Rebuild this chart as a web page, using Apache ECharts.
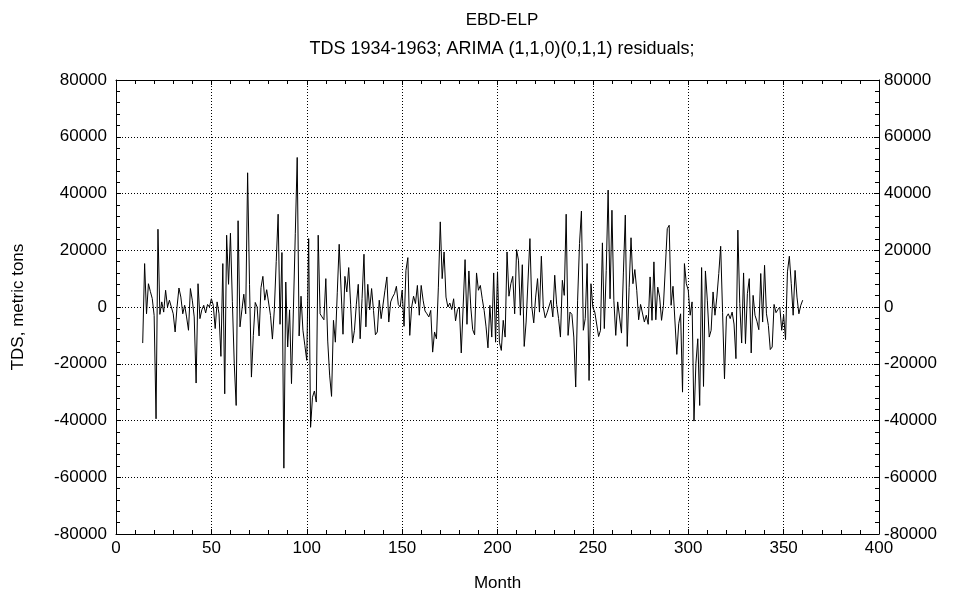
<!DOCTYPE html>
<html>
<head>
<meta charset="utf-8">
<script src="https://cdn.jsdelivr.net/npm/echarts@6/dist/echarts.min.js"></script>
<style>
  html, body { margin: 0; padding: 0; background: #fff; }
  #chart { width: 954px; height: 601px; }
</style>
</head>
<body>
<div id="chart"></div>
<script>
// Month index of the first residual (first 13 months lost to differencing)
const startMonth = 14;

// ARIMA residuals, months 14..360 (metric tons)
const residuals = [
  -12700, 15300, -2400, 8200, 5500, 3000, -3000, -39400, 27400, -2600,
  1800, -1800, 5900, 0, 2400, 1800, -2400, -8800, 0, 6700,
  3500, -2400, 600, -3500, -8200, 6500, 2400, -3500, -26800, 8200,
  -4100, -1000, 600, -2100, 900, 0, 2900, 600, -7600, 1800,
  -2400, -17400, 15300, -30600, 25300, 8000, 26000, 2000, -20000, -34700,
  30400, -7000, -1000, 4500, -2400, 47300, 8000, -24700, -10000, 1600,
  0, -10200, 6800, 10800, 2400, 6100, 5900, -3000, -11300, -1000,
  16000, 32700, -6100, 19200, -56800, 8800, -14100, -1000, -27000, -1000,
  26000, 52700, -10200, 3800, -8200, -13500, -18800, 24100, -42400, -31800,
  -29600, -33500, 25300, -2400, -3500, -4500, 10000, -12000, -24000, -31500,
  -4700, -12400, 5000, 22100, 6000, -9600, 10800, 5300, 13900, 1000,
  -12700, -8200, 1000, 8000, -11200, 3000, 18600, -7000, 8000, -1000,
  6500, -1200, -9800, -8800, 2400, -4100, -4100, 5900, 10600, -5300,
  1800, 3500, 4700, 7300, 900, 0, 5900, -6800, 12900, 17400,
  -10000, 0, 3800, 1200, 7600, -2900, 7600, 2400, -1400, -2400,
  -3500, -1200, -15900, -8800, -11200, 7000, 30000, 10000, 19400, 3500,
  0, 1400, -900, 2900, -4900, -900, 0, -16200, -15900, 16700,
  -6100, 12700, 0, -8000, -9800, 12000, 5900, 7600, 2900, -1200,
  -7000, -14400, 600, -10600, 12000, -12400, 12400, -12400, -15300, -4700,
  -10600, 19400, 3800, 8200, 10800, -2400, 20200, 16500, -2900, 14900,
  -13900, -5300, -4700, 24100, 0, -5600, 3500, 10000, -1800, 17900,
  0, -3800, -2000, -1800, 2400, -3500, 11200, 900, -4000, -10600,
  9400, 4100, 32700, -10000, -1800, -2600, -10600, -28200, 2400, 22400,
  33800, -8200, -4100, 15300, -25900, 8200, -200, -1800, -2400, -10400,
  -8200, 22600, -7600, 12900, 41200, 2900, 34100, 2400, -10000, 1800,
  1800, -9200, 12000, 32400, -13900, 6800, 24400, 8200, 13200, 5900,
  -4500, 900, 900, -5300, -2900, -6100, 10600, -4700, 15900, -4500,
  7000, 3500, -4700, 600, 900, 27600, 28800, 600, 7300, 7000,
  -16700, -5900, -2400, -30000, 15300, 8200, 5900, -2900, 1800, -40200,
  -20000, -11200, -34700, 13900, -28000, 12700, 2400, -10600, -8200, 5300,
  -2900, 3500, 11800, 21400, -2000, -25300, -3500, -2400, -4100, -1800,
  -6000, -18200, 27100, 1200, -12700, 12000, -12900, 4700, 10000, -16200,
  4100, -2900, -5000, -8000, 11800, -5300, 14700, -2400, -6500, -15000,
  -14100, 900, -2000, -900, 0, -8200, -2900, -11500, 12400, 17900,
  8200, -2900, 12900, 3500, -2400, 600, 2400
];

const xTicks = { min: 0, max: 400, interval: 50 };
const yTicks = { min: -80000, max: 80000, interval: 20000 };

const titleText = 'EBD-ELP';
const subtitleText = 'TDS 1934-1963; ARIMA (1,1,0)(0,1,1) residuals;';
const xName = 'Month';
const yName = 'TDS, metric tons';

const seriesData = residuals.map((v, i) => [startMonth + i, v]);

const FONT = '"Liberation Sans", Arial, sans-serif';
const lineStyle = { color: '#000', width: 1 };
const gridLine = { show: true, lineStyle: { color: '#000', width: 1, type: [1, 2] } };
const plainNum = (v) => String(v);

function axisBase(extra) {
  return Object.assign({
    type: 'value',
    axisLine: { show: true, onZero: false, lineStyle: lineStyle },
    axisTick: { show: true, inside: true, length: 5, lineStyle: lineStyle },
    minorTick: { show: true, splitNumber: 5, length: 4, lineStyle: lineStyle },
    axisLabel: { color: '#000', fontFamily: FONT, fontSize: 17, formatter: plainNum },
    splitLine: { show: false }
  }, extra);
}

const chart = echarts.init(document.getElementById('chart'), null, { renderer: 'canvas' });
chart.setOption({
  animation: false,
  backgroundColor: '#fff',
  title: [
    { text: titleText, left: 497, top: 7, textAlign: 'center',
      textStyle: { fontFamily: FONT, fontSize: 17, fontWeight: 'normal', color: '#000' } },
    { text: subtitleText, left: 497, top: 35, textAlign: 'center',
      textStyle: { fontFamily: FONT, fontSize: 18, fontWeight: 'normal', color: '#000' } }
  ],
  grid: { left: 116, right: 75, top: 80, bottom: 67, containLabel: false },
  xAxis: [
    axisBase({ position: 'bottom', min: xTicks.min, max: xTicks.max, interval: xTicks.interval,
      name: xName, nameLocation: 'middle', nameGap: 41,
      nameTextStyle: { fontFamily: FONT, fontSize: 17, color: '#000' },
      axisLabel: { color: '#000', fontFamily: FONT, fontSize: 17, margin: 6, formatter: plainNum },
      splitLine: gridLine }),
    axisBase({ position: 'top', min: xTicks.min, max: xTicks.max, interval: xTicks.interval,
      axisLabel: { show: false } })
  ],
  yAxis: [
    axisBase({ position: 'left', min: yTicks.min, max: yTicks.max, interval: yTicks.interval,
      name: yName, nameLocation: 'middle', nameGap: 89, nameRotate: 90,
      nameTextStyle: { fontFamily: FONT, fontSize: 17, color: '#000' },
      axisLabel: { color: '#000', fontFamily: FONT, fontSize: 17, margin: 9, formatter: plainNum },
      splitLine: gridLine }),
    axisBase({ position: 'right', min: yTicks.min, max: yTicks.max, interval: yTicks.interval,
      axisLabel: { color: '#000', fontFamily: FONT, fontSize: 17, margin: 5, formatter: plainNum } })
  ],
  series: [{
    type: 'line',
    xAxisIndex: 0,
    yAxisIndex: 0,
    data: seriesData,
    showSymbol: false,
    symbol: 'none',
    lineStyle: { color: '#000', width: 1 },
    silent: true
  }]
});
</script>
</body>
</html>
